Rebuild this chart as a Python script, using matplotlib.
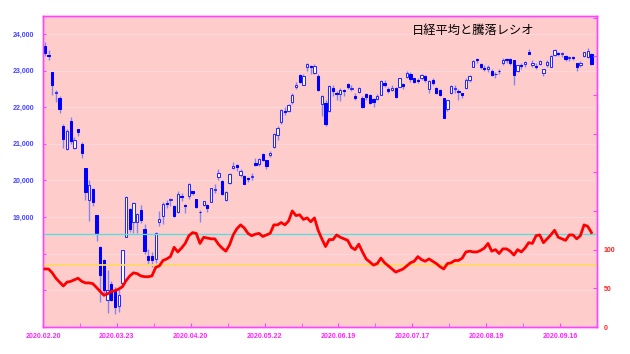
import numpy as np
import matplotlib
matplotlib.use("Agg")
from matplotlib import pyplot as plt

# Nikkei 225 daily candles, 2020.02.20 - 2020.09.30 (one entry per trading day)
opens = [23672, 23420, 22950, 22380, 22250, 21500, 20850, 21630, 20900, 21400,
         21000, 20343, 19474, 19757, 19046, 18172, 17825, 16730, 17170, 17005,
         16570, 17190, 18460, 19219, 18872, 18872, 19191, 18672, 17934, 17951,
         17845, 18872, 19027, 19380, 19460, 19309, 19145, 19580, 19320, 19574,
         19700, 19484, 19150, 19328, 19328, 19418, 19750, 20085, 19984, 19464,
         19937, 20330, 20420, 20147, 20120, 20060, 20090, 20480, 20440, 20713,
         20557, 20690, 20904, 21240, 21587, 21900, 21896, 22150, 22560, 22880,
         22606, 23106, 23120, 22926, 22852, 22078, 22105, 21896, 22515, 22400,
         22350, 22460, 22625, 22500, 22300, 22424, 22260, 22352, 22333, 22215,
         22215, 22333, 22650, 22488, 22480, 22515, 22560, 22640, 22817, 22899,
         22790, 22740, 22790, 22860, 22488, 22743, 22515, 22470, 22242, 21943,
         22379, 22490, 22450, 22380, 22515, 22743, 23106, 23310, 23180, 23080,
         23033, 23000, 22900, 23000, 23199, 23310, 23308, 23290, 23000, 23160,
         23180, 23517, 23150, 23120, 23180, 22943, 23150, 23106, 23426, 23480,
         23440, 23400, 23330, 23380, 23199, 23150, 23400, 23380, 23453]
highs = [23790, 23550, 22950, 22475, 22300, 21550, 21400, 21720, 21200, 21400,
         21050, 20350, 20000, 19800, 19050, 18200, 17850, 17557, 17250, 17100,
         17100, 18100, 19564, 19240, 19400, 19100, 19336, 18800, 18132, 18059,
         18600, 19162, 19400, 19480, 19510, 19330, 19700, 19650, 19350, 19922,
         19700, 19500, 19200, 19450, 19350, 19790, 19900, 20300, 20000, 19700,
         20200, 20500, 20450, 20300, 20150, 20100, 20200, 20600, 20604, 20750,
         20560, 20800, 21300, 21500, 21950, 22000, 22100, 22400, 22700, 22900,
         22900, 23200, 23150, 23185, 22900, 22320, 22200, 22600, 22600, 22450,
         22530, 22500, 22650, 22600, 22400, 22550, 22300, 22400, 22350, 22250,
         22350, 22730, 22750, 22550, 22600, 22550, 22800, 22650, 22990, 22950,
         22800, 22800, 22900, 22880, 22750, 22800, 22550, 22500, 22250, 22200,
         22600, 22600, 22500, 22400, 22800, 22880, 23300, 23338, 23200, 23150,
         23150, 23050, 22970, 23050, 23350, 23350, 23330, 23300, 23160, 23200,
         23260, 23600, 23280, 23200, 23300, 23050, 23300, 23430, 23582, 23500,
         23500, 23420, 23400, 23400, 23200, 23250, 23520, 23625, 23480]
lows = [23400, 23300, 22335, 22150, 21833, 20885, 20834, 21000, 20850, 21213,
        20620, 19470, 18891, 19300, 18339, 16690, 16920, 16378, 16700, 16358,
        16400, 17100, 18446, 18600, 18570, 18578, 18834, 18000, 17707, 17646,
        17750, 18770, 18800, 19250, 19300, 19000, 19100, 19450, 19100, 19500,
        19600, 19250, 18872, 19300, 19150, 19400, 19650, 20000, 19600, 19450,
        19900, 20300, 20250, 20100, 19900, 19950, 20000, 20400, 20400, 20530,
        20300, 20650, 20900, 21100, 21550, 21800, 21880, 22100, 22500, 22650,
        22600, 23000, 22900, 22900, 22450, 21750, 21500, 21880, 22300, 22200,
        22180, 22300, 22500, 22450, 22200, 22400, 21980, 22200, 22100, 22013,
        22200, 22330, 22550, 22400, 22450, 22250, 22550, 22500, 22800, 22700,
        22650, 22650, 22750, 22700, 22400, 22600, 22350, 22300, 21700, 21900,
        22350, 22400, 22200, 22250, 22500, 22700, 23100, 23200, 23050, 22980,
        22950, 22850, 22800, 22900, 23150, 23200, 23150, 22600, 22950, 23050,
        23100, 23440, 23100, 23050, 23150, 22850, 23100, 23100, 23400, 23400,
        23380, 23250, 23250, 23300, 23000, 23100, 23380, 23350, 23150]
closes = [23479, 23386, 22605, 22426, 21948, 21142, 21344, 21082, 21100, 21329,
          20749, 19698, 19867, 19416, 18559, 17431, 17002, 17011, 16726, 16552,
          16887, 18092, 19546, 18664, 19389, 19084, 18917, 18065, 17818, 17820,
          18576, 18950, 19353, 19345, 19498, 19043, 19638, 19550, 19290, 19897,
          19669, 19280, 19137, 19429, 19262, 19783, 19771, 20193, 19619, 19674,
          20179, 20390, 20366, 20267, 19914, 20037, 20133, 20433, 20595, 20552,
          20388, 20741, 21271, 21419, 21916, 21877, 22062, 22325, 22613, 22695,
          22863, 23178, 23091, 23124, 22472, 22305, 21530, 22582, 22455, 22355,
          22478, 22437, 22549, 22534, 22259, 22512, 21995, 22288, 22122, 22145,
          22306, 22714, 22614, 22438, 22529, 22291, 22784, 22587, 22945, 22770,
          22696, 22717, 22884, 22751, 22715, 22657, 22397, 22339, 21710, 22195,
          22573, 22514, 22418, 22329, 22750, 22843, 23249, 23289, 23096, 23051,
          23110, 22880, 22920, 22985, 23296, 23290, 23208, 22882, 23139, 23138,
          23247, 23465, 23205, 23089, 23274, 23032, 23235, 23406, 23559, 23454,
          23475, 23319, 23360, 23346, 23087, 23204, 23511, 23539, 23185]

# advance/decline ratio (right axis)
adr = [75, 75, 70, 63, 58, 53, 58, 59, 61, 63,
       59, 57, 57, 56, 51, 46, 41, 43, 46, 47,
       49, 52, 60, 66, 70, 69, 66, 65, 65, 66,
       77, 79, 86, 88, 91, 103, 97, 102, 108, 118,
       122, 121, 108, 116, 115, 114, 114, 107, 102, 98,
       106, 119, 127, 132, 128, 121, 118, 120, 121, 117,
       119, 121, 132, 132, 135, 132, 137, 150, 144, 145,
       139, 141, 136, 141, 125, 114, 104, 113, 113, 119,
       116, 114, 112, 103, 100, 107, 97, 88, 84, 80,
       82, 89, 83, 79, 75, 71, 73, 75, 79, 83,
       85, 91, 87, 85, 88, 85, 82, 78, 75, 82,
       83, 86, 86, 89, 97, 98, 97, 97, 99, 102,
       108, 98, 100, 95, 101, 101, 98, 93, 100, 97,
       102, 109, 108, 118, 119, 109, 114, 119, 125, 116,
       114, 112, 119, 119, 114, 118, 132, 130, 122]

date_labels = ["2020.02.20", "2020.03.23", "2020.04.20", "2020.05.22",
               "2020.06.19", "2020.07.17", "2020.08.19", "2020.09.16"]
label_step = 20  # trading days between date labels
price_ticks = list(range(16000, 24001, 1000))
ratio_ticks = list(range(0, 401, 50))
ratio_lines = [120, 80]

MAGENTA = "#ff44ff"

o = np.array(opens)
h = np.array(highs)
l = np.array(lows)
c = np.array(closes)
x = np.arange(len(c))
up = c >= o

fig = plt.figure(figsize=(6.3, 3.54), dpi=100)
ax = fig.add_axes([43 / 630, 27 / 354, 554 / 630, 311 / 354])
ax.set_facecolor("#ffcccc")

# wicks first, bodies on top
ax.vlines(x, l, h, color="#8585ee", lw=1.0, zorder=2)
body_w = 0.62
ax.bar(x[up], (c - o)[up], bottom=o[up], width=body_w, facecolor="white",
       edgecolor="#2a2aff", lw=0.75, zorder=3)
ax.bar(x[~up], (o - c)[~up], bottom=c[~up], width=body_w, facecolor="#0000ff",
       edgecolor="#0000ff", lw=0.75, zorder=3)

ax.set_xlim(-0.5, 149.5)
ax.set_ylim(16000, 24490)
ax.set_yticks(price_ticks)
ax.set_yticklabels([f"{v:,}" if v >= 19000 else "" for v in price_ticks])
ax.grid(axis="y", color="#f8d9db", lw=0.8, zorder=1)
ax.set_axisbelow(True)

ax.set_xticks([label_step * i - 0.5 for i in range(len(date_labels))])
ax.set_xticklabels(date_labels)
ax.set_xticks([label_step * i + label_step / 2 - 0.5 for i in range(len(date_labels))],
              minor=True)
ax.tick_params(axis="x", which="both", direction="in", length=3, color=MAGENTA,
               labelcolor="#ff22ff", labelsize=5, pad=4)
ax.tick_params(axis="y", direction="in", length=2.5, color=MAGENTA,
               labelcolor="#4545ff", labelsize=5, pad=6.5)

ax2 = ax.twinx()
ax2.set_ylim(0, 402)
ax2.axhline(ratio_lines[0], color="#5cdcdc", lw=1.0, zorder=2)
ax2.axhline(ratio_lines[1], color="#ffd966", lw=1.3, zorder=2)
ax2.plot(x, adr, color="#ff0000", lw=2.0, zorder=3)
ax2.set_yticks(ratio_ticks)
ax2.set_yticklabels([str(v) if v <= 100 else "" for v in ratio_ticks])
ax2.tick_params(axis="y", direction="in", length=3, color=MAGENTA,
                labelcolor="#ff2222", labelsize=5, pad=5)

for a in (ax, ax2):
    for s in a.spines.values():
        s.set_color(MAGENTA)
        s.set_linewidth(1.0)
    for lab in a.get_xticklabels() + a.get_yticklabels():
        lab.set_family(["Liberation Sans", "DejaVu Sans"])
        lab.set_fontweight("bold")

ax2.text(0.666, 0.952, "日経平均と騰落レシオ", transform=ax.transAxes,
         fontsize=8.8, family=["Noto Sans CJK JP", "DejaVu Sans"],
         color="black", va="center", ha="left", zorder=10)

fig.savefig("out.png", dpi=100, facecolor="white")
